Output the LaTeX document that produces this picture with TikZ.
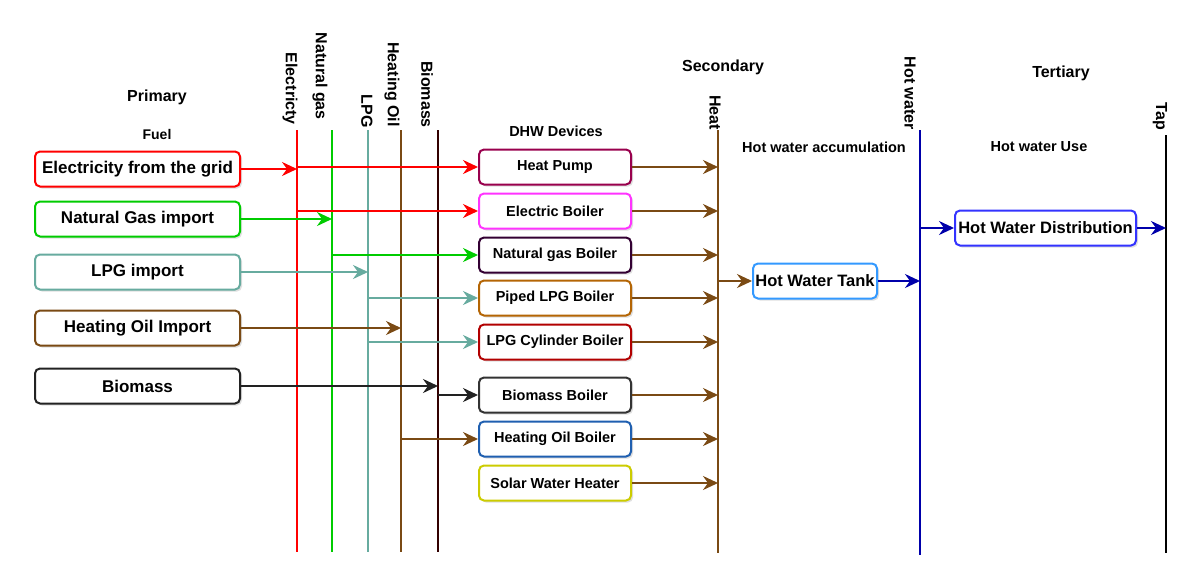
\documentclass[tikz,border=0pt]{standalone}
\usepackage{fontspec}
\setmainfont{Liberation Sans}
\usetikzlibrary{arrows.meta,shadows}
\definecolor{cred}{HTML}{FF0000}
\definecolor{cgreen}{HTML}{00CC00}
\definecolor{cteal}{HTML}{67AB9F}
\definecolor{cbrown}{HTML}{7A4A14}
\definecolor{cbio}{HTML}{330000}
\definecolor{cdark}{HTML}{222222}
\definecolor{chp}{HTML}{99004D}
\definecolor{ceb}{HTML}{FF33FF}
\definecolor{cngb}{HTML}{330033}
\definecolor{cplb}{HTML}{B46504}
\definecolor{clcb}{HTML}{B20000}
\definecolor{cbmb}{HTML}{333333}
\definecolor{chob}{HTML}{1F5FB0}
\definecolor{cswh}{HTML}{CCCC00}
\definecolor{ctank}{HTML}{3399FF}
\definecolor{cdist}{HTML}{3333FF}
\definecolor{chw}{HTML}{0000AA}
\tikzset{
  box/.style={draw, line width=2pt, rounded corners=5pt, fill=white, inner sep=0pt, align=center,
    font=\bfseries\fontsize{17}{20}\selectfont,
    drop shadow={shadow xshift=2pt, shadow yshift=-2pt, opacity=0.25}},
  fuelbox/.style={box, minimum width=205pt, minimum height=35pt},
  devbox/.style={box, minimum width=152pt, minimum height=35pt, font=\bfseries\fontsize{14.5}{17}\selectfont},
  hwbox/.style={box, minimum height=35pt, font=\bfseries\fontsize{16.5}{19}\selectfont},
  bus/.style={line width=2pt},
  arr/.style={line width=2.2pt, -{Stealth[length=15pt,width=14pt,inset=5pt]}},
  buslbl/.style={rotate=-90, anchor=east, inner sep=0pt, font=\bfseries\fontsize{16}{19}\selectfont},
  ttl/.style={inner sep=0pt, font=\bfseries\fontsize{16}{19}\selectfont},
  sub/.style={inner sep=0pt, font=\bfseries\fontsize{14.5}{17}\selectfont},
}
\begin{document}
\begin{tikzpicture}[x=1pt,y=-1pt]
\useasboundingbox[fill=white] (0,0) rectangle (1200,587);

% headings
\node[ttl] (tPrim) at (157,97) {Primary};
\node[sub, font=\bfseries\fontsize{14}{17}\selectfont] (tFuel) at (157,134) {Fuel};
\node[sub] (tDHW) at (556,131) {DHW Devices};
\node[ttl] (tSec) at (723,67) {Secondary};
\node[sub] (tAcc) at (824,147) {Hot water accumulation};
\node[ttl] (tTer) at (1061,73) {Tertiary};
\node[sub] (tUse) at (1039,147) {Hot water Use};

% bus coordinates
\coordinate (elT) at (297,130); \coordinate (elB) at (297,552);
\coordinate (ngT) at (332,130); \coordinate (ngB) at (332,552);
\coordinate (lpT) at (368,130); \coordinate (lpB) at (368,552);
\coordinate (hoT) at (401,130); \coordinate (hoB) at (401,552);
\coordinate (bmT) at (438,130); \coordinate (bmB) at (438,552);
\coordinate (heT) at (718,130); \coordinate (heB) at (718,553);
\coordinate (hwT) at (920,130); \coordinate (hwB) at (920,555);
\coordinate (tpT) at (1166,135); \coordinate (tpB) at (1166,553);

% buses
\draw[bus, cred] (elT) -- (elB);
\draw[bus, cgreen] (ngT) -- (ngB);
\draw[bus, cteal] (lpT) -- (lpB);
\draw[bus, cbrown] (hoT) -- (hoB);
\draw[bus, cbio] (bmT) -- (bmB);
\draw[bus, cbrown] (heT) -- (heB);
\draw[bus, chw] (hwT) -- (hwB);
\draw[bus, black] (tpT) -- (tpB);

% bus labels
\node[buslbl] (lEl) at (290,125) {Electricty};
\node[buslbl] (lNg) at (320,120) {Natural gas};
\node[buslbl] (lLp) at (367,128) {LPG};
\node[buslbl] (lHo) at (392,127) {Heating Oil};
\node[buslbl] (lBm) at (427,128) {Biomass};
\node[buslbl] (lHe) at (715,130) {Heat};
\node[buslbl] (lHw) at (910,130) {Hot water};
\node[buslbl] (lTp) at (1160,130) {Tap};

% fuel boxes
\node[fuelbox, draw=cred] (fe) at (137.5,169) {Electricity from the grid};
\node[fuelbox, draw=cgreen] (fn) at (137.5,219) {Natural Gas import};
\node[fuelbox, draw=cteal] (fl) at (137.5,272) {LPG import};
\node[fuelbox, draw=cbrown] (fo) at (137.5,328) {Heating Oil Import};
\node[fuelbox, draw=cdark] (fb) at (137.5,386) {Biomass};

% devices
\node[devbox, draw=chp] (hp) at (555,167) {Heat Pump};
\node[devbox, draw=ceb] (eb) at (555,211) {Electric Boiler};
\node[devbox, draw=cngb] (ngb) at (555,255) {Natural gas Boiler};
\node[devbox, draw=cplb] (plb) at (555,298) {Piped LPG Boiler};
\node[devbox, draw=clcb] (lcb) at (555,342) {LPG Cylinder Boiler};
\node[devbox, draw=cbmb] (bmb) at (555,395) {Biomass Boiler};
\node[devbox, draw=chob] (hob) at (555,439) {Heating Oil Boiler};
\node[devbox, draw=cswh] (swh) at (555,483) {Solar Water Heater};

% hot water
\node[hwbox, draw=ctank, minimum width=124pt] (tank) at (815,281) {Hot Water Tank};
\node[hwbox, draw=cdist, minimum width=181pt] (dist) at (1045.5,228) {Hot Water Distribution};

% fuel -> bus
\draw[arr, cred] (fe.east) -- (fe.east -| elT);
\draw[arr, cgreen] (fn.east) -- (fn.east -| ngT);
\draw[arr, cteal] (fl.east) -- (fl.east -| lpT);
\draw[arr, cbrown] (fo.east) -- (fo.east -| hoT);
\draw[arr, cdark] (fb.east) -- (fb.east -| bmT);

% bus -> devices
\draw[arr, cred] (hp.west -| elT) -- (hp.west);
\draw[arr, cred] (eb.west -| elT) -- (eb.west);
\draw[arr, cgreen] (ngb.west -| ngT) -- (ngb.west);
\draw[arr, cteal] (plb.west -| lpT) -- (plb.west);
\draw[arr, cteal] (lcb.west -| lpT) -- (lcb.west);
\draw[arr, cdark] (bmb.west -| bmT) -- (bmb.west);
\draw[arr, cbrown] (hob.west -| hoT) -- (hob.west);

% devices -> heat
\foreach \d in {hp,eb,ngb,plb,lcb,bmb,hob,swh}{
  \draw[arr, cbrown] (\d.east) -- (\d.east -| heT);
}

% heat -> tank -> hot water -> distribution -> tap
\draw[arr, cbrown] (tank.west -| heT) -- (tank.west);
\draw[arr, chw] (tank.east) -- (tank.east -| hwT);
\draw[arr, chw] (dist.west -| hwT) -- (dist.west);
\draw[arr, chw] (dist.east) -- (dist.east -| tpT);
\end{tikzpicture}
\end{document}
